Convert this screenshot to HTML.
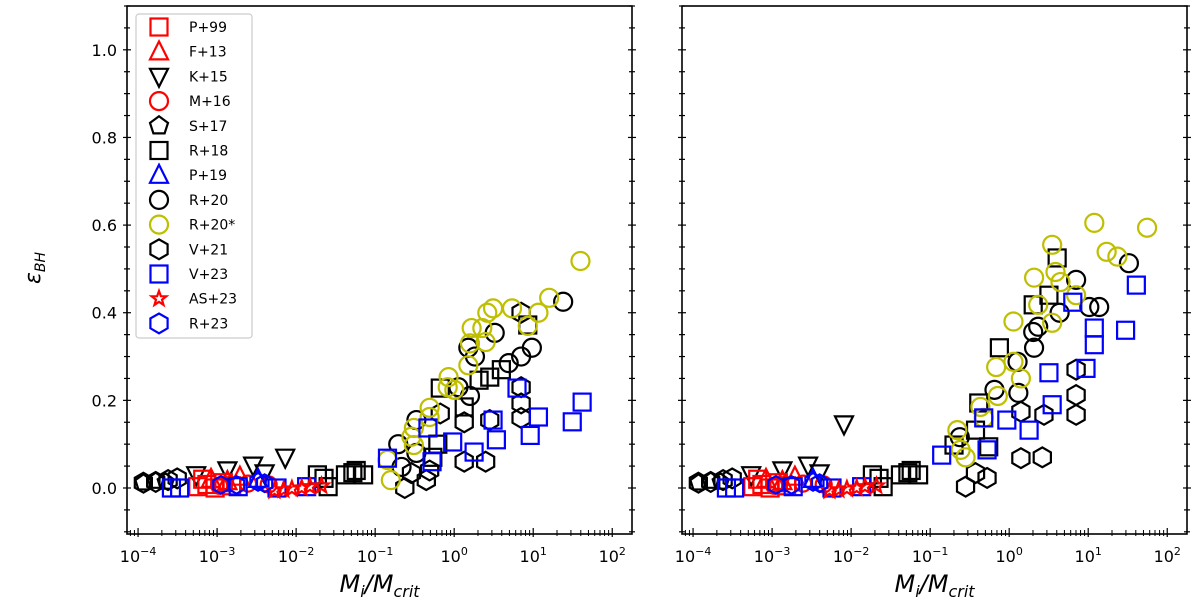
<!DOCTYPE html>
<html><head><meta charset="utf-8">
<style>
html,body{margin:0;padding:0;background:#fff;}
svg{display:block;font-family:"DejaVu Sans","Liberation Sans",sans-serif;}
</style></head>
<body>
<svg id="chart" width="1200" height="608" viewBox="0 0 1200 608" xmlns="http://www.w3.org/2000/svg"></svg>
<script>
// ---- data (log10 of Mi/Mcrit, epsilon_BH) ----
const p99X=[-3.244,-3.129,-3.025,-2.921,-2.816,-3.182];
const p99Y=[0.003,0.008,0.0,0.012,0.005,0.02];
const f13X=[-3.077,-2.869,-2.712];
const f13Y=[0.02,0.015,0.025];
const m16X=[-2.973,-2.608,-2.347];
const m16Y=[0.005,0.01,0.008];
const k15LowX=[-3.265,-2.869,-2.545,-2.399];
const k15LowY=[0.03,0.041,0.052,0.034];
const s17X=[-3.933,-3.777,-3.651];
const s17Y=[0.012,0.016,0.014];
const p19X=[-2.482];
const p19Y=[0.02];
const as23X=[-2.274,-2.159,-2.054,-1.929,-1.825,-1.679];
const as23Y=[-0.006,-0.004,-0.002,0.0,0.003,0.005];
const r23X=[-2.952,-2.754,-2.482,-2.399];
const r23Y=[0.007,0.007,0.014,0.011];
const v21LowX=[-3.933,-3.777,-3.620,-3.505];
const v21LowY=[0.012,0.014,0.018,0.022];
const v23LowX=[-3.578,-3.474,-2.733,-2.242,-1.867];
const v23LowY=[0.0,0.0,0.003,0.0,0.003];
const r18LowX=[-1.647,-1.376,-1.240,-1.595,-1.731,-1.282,-1.146];
const r18LowY=[0.022,0.03,0.04,0.003,0.03,0.035,0.03];

// left panel
const k15LX=[-2.138]; const k15LY=[0.07];
const r20sLX=[1.598,1.202,1.066,0.931,0.732,0.492,0.419,0.356,0.221,0.398,0.200,0.179,-0.071,-0.082,0.002,-0.311,-0.311,-0.510,-0.541,-0.510,-0.802,-0.844];
const r20sLY=[0.518,0.434,0.40,0.37,0.41,0.41,0.40,0.365,0.365,0.333,0.33,0.28,0.253,0.23,0.224,0.183,0.162,0.137,0.117,0.098,0.018,0.064];
const r20LX=[1.379,0.983,0.847,0.690,0.513,0.179,0.263,0.200,0.054,-0.478,-0.708,-0.478,-0.666];
const r20LY=[0.425,0.32,0.30,0.285,0.354,0.32,0.30,0.21,0.23,0.155,0.10,0.08,0.048];
const r18LX=[0.931,0.597,0.450,0.315,-0.176,0.127,-0.207,-0.270];
const r18LY=[0.372,0.27,0.253,0.246,0.228,0.185,0.10,0.07];
const v21LX=[0.847,0.847,0.847,0.847,0.450,0.127,0.127,0.398,-0.176,-0.353,-0.541,-0.625,-0.311];
const v21LY=[0.40,0.23,0.193,0.16,0.155,0.15,0.06,0.06,0.17,0.018,0.034,0.0,0.04];
const v23LX=[0.795,1.619,1.494,1.066,0.962,0.534,0.492,0.252,-0.019,-0.332,-0.280,-0.844];
const v23LY=[0.228,0.196,0.151,0.162,0.12,0.11,0.155,0.082,0.105,0.137,0.06,0.068];

// right panel
const k15RX=[-2.09]; const k15RY=[0.146];
const r20sRX=[1.077,1.745,1.233,1.369,0.544,0.586,0.649,0.315,0.847,0.367,0.544,0.054,0.054,0.148,-0.165,-0.144,-0.364,-0.322,-0.656,-0.614,-0.552];
const r20sRY=[0.605,0.594,0.539,0.528,0.555,0.493,0.47,0.48,0.44,0.418,0.377,0.38,0.288,0.25,0.276,0.21,0.185,0.16,0.132,0.087,0.07];
const r20RX=[1.515,0.847,1.139,1.014,0.638,0.367,0.304,0.315,0.106,0.116,-0.186,-0.625];
const r20RY=[0.513,0.475,0.413,0.413,0.40,0.368,0.356,0.32,0.288,0.217,0.224,0.116];
const r18RX=[0.607,0.503,0.304,-0.124,-0.385,-0.259,-0.426,-0.698];
const r18RY=[0.525,0.44,0.418,0.32,0.194,0.094,0.132,0.098];
const v21RX=[0.847,0.847,0.847,0.440,0.148,0.148,0.419,-0.426,-0.280,-0.552];
const v21RY=[0.27,0.212,0.167,0.167,0.174,0.068,0.07,0.034,0.023,0.003];
const v23RX=[1.609,1.473,1.077,1.077,0.972,0.805,0.503,0.544,0.252,-0.030,-0.322,-0.280,-0.854];
const v23RY=[0.463,0.36,0.365,0.327,0.273,0.424,0.263,0.19,0.132,0.155,0.16,0.087,0.075];

const xTickExp=[-4,-3,-2,-1,0,1,2];
const yTickVals=[0.0,0.2,0.4,0.6,0.8,1.0];
const yTickLabels=["0.0","0.2","0.4","0.6","0.8","1.0"];
const legendLabels=["P+99","F+13","K+15","M+16","S+17","R+18","P+19","R+20","R+20*","V+21","V+23","AS+23","R+23"];

// ---- layout ----
const NS="http://www.w3.org/2000/svg";
const svg=document.getElementById('chart');
const PT=6, PB=534, XMIN=-4.14, XMAX=2.25, YMIN=-0.105, YMAX=1.1;
const panels=[{L:127,R:632,name:'left-panel'},{L:682,R:1187,name:'right-panel'}];
const RED="#ff0000",BLUE="#0000ff",YEL="#bfbf00",BLK="#000000";
function mk(tag,attrs,parent){const e=document.createElementNS(NS,tag);for(const k in attrs)e.setAttribute(k,attrs[k]);(parent||svg).appendChild(e);return e;}
function sx(p,lx){return p.L+(lx-XMIN)/(XMAX-XMIN)*(p.R-p.L);}
function sy(v){return PB-(v-YMIN)/(YMAX-YMIN)*(PB-PT);}

function marker(g,type,cx,cy,color,s){
  const st={fill:'none',stroke:color,'stroke-width':2.2};
  let e;
  if(type==='sq'){e=mk('rect',Object.assign({x:cx-s,y:cy-s,width:2*s,height:2*s},st),g);}
  else if(type==='circ'){e=mk('circle',Object.assign({cx:cx,cy:cy,r:s},st),g);}
  else {
    let pts=[];
    if(type==='tri'){pts=[[0,-1.15],[1,0.85],[-1,0.85]];}
    else if(type==='tridn'){pts=[[0,1.15],[1,-0.85],[-1,-0.85]];}
    else if(type==='hex'){for(let i=0;i<6;i++){const a=Math.PI/2+i*Math.PI/3;pts.push([Math.cos(a)*1.1,Math.sin(a)*1.1]);}}
    else if(type==='pent'){for(let i=0;i<5;i++){const a=-Math.PI/2+i*2*Math.PI/5;pts.push([Math.cos(a)*1.05,Math.sin(a)*1.05]);}}
    else if(type==='star'){for(let i=0;i<10;i++){const a=-Math.PI/2+i*Math.PI/5;const r=i%2?0.45:1.1;pts.push([Math.cos(a)*r,Math.sin(a)*r]);}}
    e=mk('polygon',Object.assign({points:pts.map(q=>(cx+q[0]*s).toFixed(1)+','+(cy+q[1]*s).toFixed(1)).join(' ')},st),g);
  }
  return e;
}

function series(p,g,xs,ys,type,color,s,name){
  for(let i=0;i<xs.length;i++){
    const e=marker(g,type,sx(p,xs[i]),sy(ys[i]),color,s);
    
    
  }
}

panels.forEach((p,pi)=>{
  const g=mk('g',{});
  
  
  const cid='clip'+pi;
  const cp=mk('clipPath',{id:cid},g); mk('rect',{x:p.L,y:PT,width:p.R-p.L,height:PB-PT},cp);
  const dg=mk('g',{'clip-path':'url(#'+cid+')'},g);
  
  
  const left=pi===0;
  series(p,dg,s17X,s17Y,'pent',BLK,8,'s17');
  series(p,dg,v21LowX,v21LowY,'hex',BLK,9,'v21');
  series(p,dg,left?v21LX:v21RX,left?v21LY:v21RY,'hex',BLK,9,'v21');
  series(p,dg,k15LowX,k15LowY,'tridn',BLK,9,'k15');
  series(p,dg,left?k15LX:k15RX,left?k15LY:k15RY,'tridn',BLK,9,'k15');
  series(p,dg,r18LowX,r18LowY,'sq',BLK,8.5,'r18');
  series(p,dg,left?r18LX:r18RX,left?r18LY:r18RY,'sq',BLK,8.5,'r18');
  series(p,dg,left?r20LX:r20RX,left?r20LY:r20RY,'circ',BLK,9,'r20');
  series(p,dg,p99X,p99Y,'sq',RED,8.5,'p99');
  series(p,dg,f13X,f13Y,'tri',RED,9,'f13');
  series(p,dg,m16X,m16Y,'circ',RED,8,'m16');
  series(p,dg,left?r20sLX:r20sRX,left?r20sLY:r20sRY,'circ',YEL,9,'r20star');
  series(p,dg,v23LowX,v23LowY,'sq',BLUE,8.5,'v23');
  series(p,dg,left?v23LX:v23RX,left?v23LY:v23RY,'sq',BLUE,8.5,'v23');
  series(p,dg,p19X,p19Y,'tri',BLUE,9,'p19');
  series(p,dg,as23X,as23Y,'star',RED,7,'as23');
  series(p,dg,r23X,r23Y,'hex',BLUE,8,'r23');
  const fr=mk('rect',{x:p.L,y:PT,width:p.R-p.L,height:PB-PT,fill:'none',stroke:'#000','stroke-width':1.6},g);
  
  
  xTickExp.forEach(e=>{
    const x=sx(p,e);
    mk('line',{x1:x,x2:x,y1:PB-6,y2:PB+3,stroke:'#000','stroke-width':1.2},g);
    const t=mk('text',{x:x,y:PB+28,'font-size':16,'text-anchor':'middle'},g);
    
    
    t.textContent='10';
    const sup=mk('tspan',{'font-size':11,dy:-7},t); sup.textContent=(e<0?'\u2212'+(-e):String(e));
    for(let m=2;m<10;m++){const lx=e+Math.log10(m);if(lx>XMAX)break;const xm=sx(p,lx);mk('line',{x1:xm,x2:xm,y1:PB-4,y2:PB+2,stroke:'#000','stroke-width':1},g);}
  });
  for(let m=5;m<10;m++){const lx=-5+Math.log10(m);if(lx<XMIN)continue;const xm=sx(p,lx);mk('line',{x1:xm,x2:xm,y1:PB-4,y2:PB+2,stroke:'#000','stroke-width':1},g);}
  for(let k=-2;k<=22;k++){
    const v=k*0.05; if(v<YMIN||v>YMAX)continue;
    const y=sy(v); const major=(k%4===0);
    const len=major?4:3;
    [p.L,p.R].forEach(xx=>mk('line',{x1:xx-len,x2:xx+len,y1:y,y2:y,stroke:'#000','stroke-width':1.2},g));
  }
  if(left){
    yTickVals.forEach((v,i)=>{
      const t=mk('text',{x:p.L-10,y:sy(v)+6,'font-size':16,'text-anchor':'end'},g);
      
      
      t.textContent=yTickLabels[i];
    });
  }
  const xt=mk('text',{x:(p.L+p.R)/2,y:592,'font-size':24,'font-style':'italic','text-anchor':'middle'},g);
  
  
  xt.textContent='M';
  const s1=mk('tspan',{'font-size':16,dy:5},xt); s1.textContent='i';
  const s2=mk('tspan',{dy:-5},xt); s2.textContent='/M';
  const s3=mk('tspan',{'font-size':16,dy:5},xt); s3.textContent='crit';
});

const yt=mk('text',{x:0,y:0,'font-size':22,'font-style':'italic','text-anchor':'middle',transform:'translate(40,268) rotate(-90)'});


yt.textContent='\u03B5';
const ys1=mk('tspan',{'font-size':14,dy:5},yt); ys1.textContent='BH';

const lg=mk('g',{});


mk('rect',{x:136,y:14,width:116,height:324,rx:3,fill:'#fff','fill-opacity':0.85,stroke:'#cccccc','stroke-width':1.2},lg);
const legTypes=[['sq',RED],['tri',RED],['tridn',BLK],['circ',RED],['pent',BLK],['sq',BLK],['tri',BLUE],['circ',BLK],['circ',YEL],['hex',BLK],['sq',BLUE],['star',RED],['hex',BLUE]];
legendLabels.forEach((lab,i)=>{
  const y=27+i*24.7;
  const eg=mk('g',{},lg);
  
  
  const t=legTypes[i];
  marker(eg,t[0],159,y,t[1],t[0]==='star'?7:(t[0]==='sq'?8.5:9));
  const tx=mk('text',{x:189,y:y+5,'font-size':14},eg); tx.textContent=lab;
});
</script>
</body></html>
